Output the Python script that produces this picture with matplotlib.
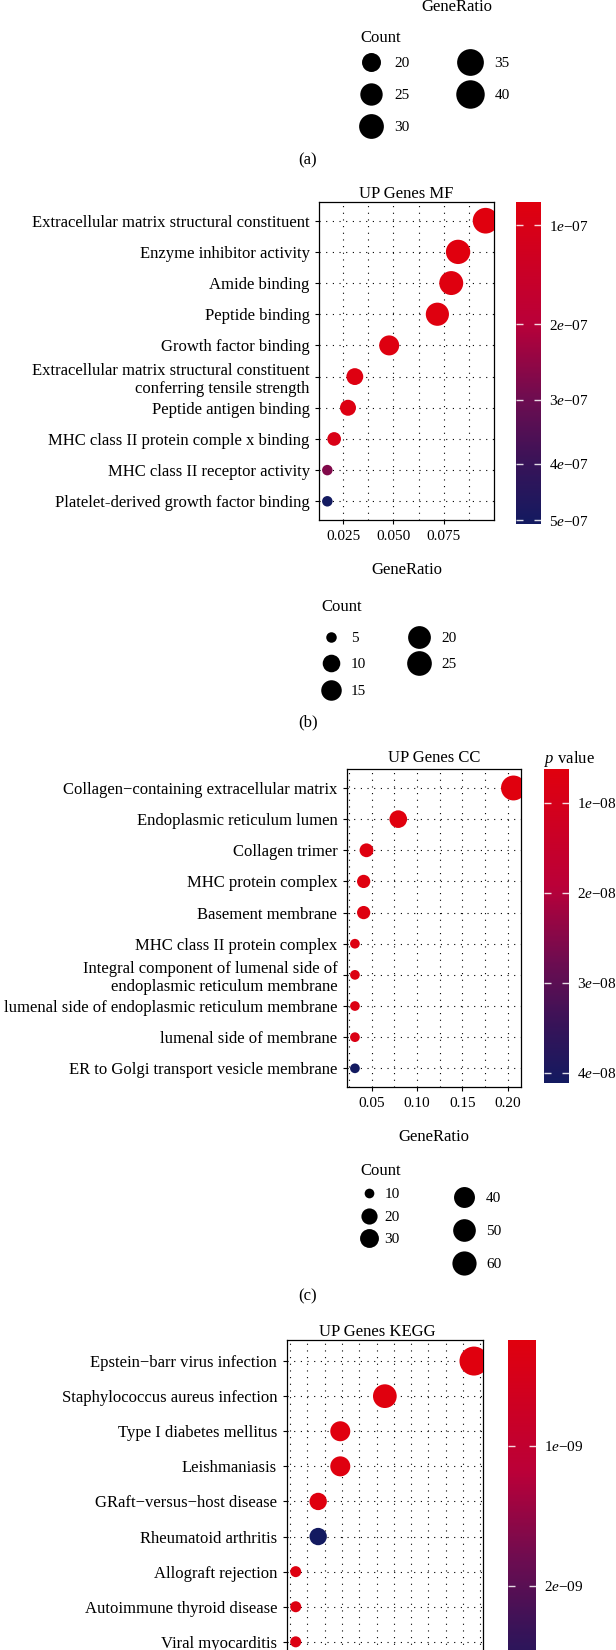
import numpy as np
import matplotlib
matplotlib.use("Agg")
import matplotlib.pyplot as plt
from matplotlib.colors import LinearSegmentedColormap, FuncNorm, Normalize
from matplotlib.cm import ScalarMappable
from matplotlib.lines import Line2D
from matplotlib.ticker import MultipleLocator, FormatStrFormatter

plt.rcParams["font.family"] = ["Liberation Serif", "DejaVu Serif"]
plt.rcParams["mathtext.fontset"] = "custom"
plt.rcParams["mathtext.rm"] = "Liberation Serif"
plt.rcParams["mathtext.it"] = "Liberation Serif:italic"

# ---- data ----
# (a) only its Count legend is visible
a_legend_counts = [20, 25, 30, 35, 40]

mf_terms = ["Extracellular matrix structural constituent",
            "Enzyme inhibitor activity",
            "Amide binding",
            "Peptide binding",
            "Growth factor binding",
            "Extracellular matrix structural constituent\nconferring tensile strength",
            "Peptide antigen binding",
            "MHC class II protein comple x binding",
            "MHC class II receptor activity",
            "Platelet-derived growth factor binding"]
mf_ratio = [0.0959, 0.0822, 0.0788, 0.0719, 0.0479, 0.0308, 0.0274, 0.0205, 0.0171, 0.0171]
mf_count = [28, 24, 23, 21, 14, 9, 8, 6, 5, 5]
mf_p = [8.16e-8, 8.3e-8, 8.4e-8, 8.5e-8, 8.6e-8, 8.8e-8, 9.0e-8, 1.0e-7, 2.7e-7, 5.07e-7]
mf_legend_counts = [5, 10, 15, 20, 25]
mf_cb_ticks = [1e-7, 2e-7, 3e-7, 4e-7, 5e-7]

cc_terms = ["Collagen\u2212containing extracellular matrix",
            "Endoplasmic reticulum lumen",
            "Collagen trimer",
            "MHC protein complex",
            "Basement membrane",
            "MHC class II protein complex",
            "Integral component of lumenal side of\nendoplasmic reticulum membrane",
            "lumenal side of endoplasmic reticulum membrane",
            "lumenal side of membrane",
            "ER to Golgi transport vesicle membrane"]
cc_ratio = [0.2063, 0.0794, 0.0444, 0.0413, 0.0413, 0.0317, 0.0317, 0.0317, 0.0317, 0.0317]
cc_count = [65, 25, 14, 13, 13, 10, 10, 10, 10, 10]
cc_p = [6.3e-9, 6.4e-9, 6.6e-9, 6.8e-9, 7.0e-9, 7.3e-9, 7.6e-9, 7.9e-9, 8.3e-9, 4.12e-8]
cc_legend_counts = [10, 20, 30, 40, 50, 60]
cc_cb_ticks = [1e-8, 2e-8, 3e-8, 4e-8]

kegg_terms = ["Epstein\u2212barr virus infection",
              "Staphylococcus aureus infection",
              "Type I diabetes mellitus",
              "Leishmaniasis",
              "GRaft\u2212versus\u2212host disease",
              "Rheumatoid arthritis",
              "Allograft rejection",
              "Autoimmune thyroid disease",
              "Viral myocarditis"]
kegg_ratio = [0.1032, 0.0774, 0.0645, 0.0645, 0.0581, 0.0581, 0.0516, 0.0516, 0.0516]
kegg_count = [16, 12, 10, 10, 9, 9, 8, 8, 8]
kegg_p = [2.47e-10, 2.5e-10, 2.6e-10, 2.7e-10, 2.8e-10, 2.8e-9, 3.0e-10, 3.2e-10, 3.4e-10]
kegg_cb_ticks = [1e-9, 2e-9]

# ---- layout helpers ----
W, H = 616, 1650
K = 100 / 72        # px per pt
FSP = 11            # legend font size (pt)
FS = FSP * K        # in px

cmap = LinearSegmentedColormap.from_list(
    "pv", [(0, "#E0000E"), (0.37, "#BA0038"), (0.61, "#6E0C50"), (0.81, "#381358"), (1, "#131A60")])


def rect(x0, y0, x1, y1):
    return [x0 / W, 1 - y1 / H, (x1 - x0) / W, (y1 - y0) / H]


def diam(counts, cmin, cmax, dmin, dmax):
    t = np.clip((np.asarray(counts, float) - cmin) / (cmax - cmin), 0, 1)
    return dmin + (dmax - dmin) * np.sqrt(t)


def sci(v):
    m, e = f"{v:.0e}".split("e")
    return f"{m}$\\mathit{{e}}$\u2212{abs(int(e)):02d}"


def dot_panel(ax, cax, terms, ratio, count, pval, norm, sizes, title, tpad, xstep, xfmt,
              cb_ticks, nslots=None, tx=0.5, cb_title=None):
    n = len(terms)
    nslots = nslots or n
    y = np.arange(nslots, nslots - n, -1)
    d = diam(count, *sizes)
    ax.scatter(ratio, y, s=(d * 0.72) ** 2, c=pval, cmap=cmap, norm=norm, linewidths=0, zorder=3)
    ax.margins(x=0.05)
    ax.set_ylim(0.4, nslots + 0.6)
    ax.set_yticks(y)
    ax.set_yticklabels(terms)
    ax.xaxis.set_major_locator(MultipleLocator(xstep))
    ax.xaxis.set_minor_locator(MultipleLocator(xstep / 2))
    ax.xaxis.set_major_formatter(FormatStrFormatter(xfmt))
    ax.grid(which="both", axis="x", color="black", lw=0.8, ls=(0, (1, 5)))
    ax.grid(which="major", axis="y", color="black", lw=0.8, ls=(0, (1, 5)))
    ax.set_axisbelow(True)
    ax.tick_params(which="minor", length=0)
    ax.tick_params(axis="y", labelsize=12, length=3, width=0.8, pad=4)
    ax.tick_params(axis="x", labelsize=11, length=3, width=0.8, pad=4)
    for s in ax.spines.values():
        s.set_linewidth(0.9)
    ax.set_title(title, fontsize=12, pad=tpad, x=tx)
    ax.set_xlabel("GeneRatio", fontsize=12, labelpad=14)

    cb = fig.colorbar(ScalarMappable(norm=norm, cmap=cmap), cax=cax)
    cb.outline.set_visible(False)
    cb.set_ticks(cb_ticks)
    cb.set_ticklabels([sci(v) for v in cb_ticks])
    cax.minorticks_off()
    cax.invert_yaxis()
    cax.tick_params(direction="in", length=5, width=1, color=(1, 1, 1, 0.85),
                    left=True, right=True, labelleft=False, labelright=True,
                    labelsize=11, pad=6)
    if cb_title:
        cax.set_title(cb_title, fontsize=12, loc="left", pad=4)


def legend_col(counts, sizes, dot_x, row1_y, pitch, hl, pad, ls):
    # one column of the Count size legend; first marker centred on (dot_x, row1_y)
    d = diam(counts, *sizes)
    handles = [Line2D([], [], ls="none", marker="o", color="black", markeredgewidth=0,
                      markersize=v * 0.72) for v in d]
    box = pitch - ls * FS
    hh = (box / FS - 0.245) / 0.65
    desc = 0.35 * FS * (hh - 0.7)
    mark = FS * hh / 2
    top = row1_y - (box - mark)
    leg = fig.legend(handles, [str(c) for c in counts], loc="upper left",
                     bbox_to_anchor=((dot_x - hl * FS / 2) / W, 1 - top / H), frameon=False,
                     borderpad=0, borderaxespad=0, handlelength=hl, handleheight=hh,
                     handletextpad=pad, labelspacing=ls, fontsize=FSP)
    for t in leg.get_texts():
        t.set_y(mark - desc - 0.33 * FS)


fig = plt.figure(figsize=(W / 100, H / 100), dpi=100)

# ---- (a) remnant ----
a_sizes = (17, 42, 13.6, 29.1)
fig.text(457 / W, 1 - 7 / H, "GeneRatio", ha="center", va="center", fontsize=12)
fig.text(360.7 / W, 1 - 38.3 / H, "Count", ha="left", va="center", fontsize=12)
legend_col(a_legend_counts[:3], a_sizes, 371.3, 62, 32, 1.39, 0.79, 0)
legend_col(a_legend_counts[3:], a_sizes, 470.3, 62, 32.3, 1.39, 0.88, 0)
fig.text(0.5, 1 - 160 / H, "(a)", ha="center", va="center", fontsize=12)

# ---- (b) MF ----
mf_sizes = (5, 28, 10.5, 25.7)
ax_b = fig.add_axes(rect(319.4, 202, 493.5, 520))
cax_b = fig.add_axes(rect(516, 202, 541, 524))
norm_b = FuncNorm((np.sqrt, np.square), vmin=min(mf_p), vmax=max(mf_p))
dot_panel(ax_b, cax_b, mf_terms, mf_ratio, mf_count, mf_p, norm_b, mf_sizes,
          "UP Genes MF", 2, 0.025, "%.3f", mf_cb_ticks)
fig.text(321.4 / W, 1 - 606.7 / H, "Count", ha="left", va="center", fontsize=12)
legend_col(mf_legend_counts[:3], mf_sizes, 331.2, 636.7, 26.7, 1.28, 0.65, 0.46)
legend_col(mf_legend_counts[3:], mf_sizes, 418.5, 636.7, 26.6, 1.28, 0.85, 0.46)
fig.text(0.5, 1 - 722.7 / H, "(b)", ha="center", va="center", fontsize=12)

# ---- (c) CC ----
cc_sizes = (10, 65, 9.7, 24.9)
ax_c = fig.add_axes(rect(347, 769.3, 521.4, 1087))
cax_c = fig.add_axes(rect(544.2, 769.3, 568.6, 1083.3))
norm_c = Normalize(vmin=min(cc_p), vmax=max(cc_p))
dot_panel(ax_c, cax_c, cc_terms, cc_ratio, cc_count, cc_p, norm_c, cc_sizes,
          "UP Genes CC", 5, 0.05, "%.2f", cc_cb_ticks, cb_title="$\\mathit{p}$ value")
fig.text(360.3 / W, 1 - 1171 / H, "Count", ha="left", va="center", fontsize=12)
legend_col(cc_legend_counts[:3], cc_sizes, 369.4, 1193.3, 22.5, 1.19, 0.38, 0)
legend_col(cc_legend_counts[3:], cc_sizes, 463.7, 1197.3, 32.7, 1.19, 0.86, 0)
fig.text(0.5, 1 - 1296 / H, "(c)", ha="center", va="center", fontsize=12)

# ---- (d) KEGG (cut off at the bottom) ----
kegg_sizes = (8, 16, 11, 29)
ax_d = fig.add_axes(rect(286.8, 1340, 482.9, 1698))
cax_d = fig.add_axes(rect(508, 1340, 536, 1698))
norm_d = Normalize(vmin=min(kegg_p), vmax=max(kegg_p))
dot_panel(ax_d, cax_d, kegg_terms, kegg_ratio, kegg_count, kegg_p, norm_d, kegg_sizes,
          "UP Genes KEGG", 3, 0.01, "%.2f", kegg_cb_ticks, nslots=10, tx=0.464)

fig.savefig("out.png", dpi=100)
